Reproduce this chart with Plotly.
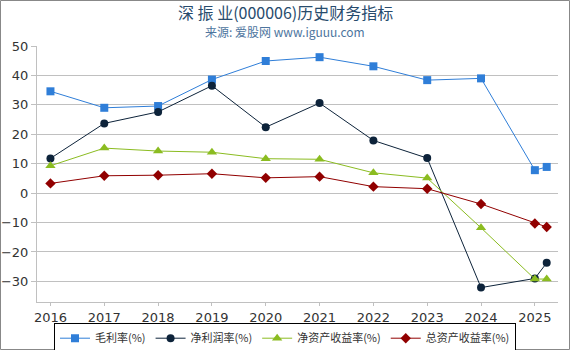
import plotly.graph_objects as go

x_vals = [2016, 2017, 2018, 2019, 2020, 2021, 2022, 2023, 2024, 2025, 2025.22]
gross_margin = [34.6, 29.0, 29.6, 38.6, 44.9, 46.2, 43.1, 38.4, 39.0, 7.8, 8.9]
net_margin = [11.8, 23.7, 27.6, 36.5, 22.4, 30.6, 17.9, 11.9, -32.1, -29.0, -23.7]
roe = [9.3, 15.3, 14.3, 13.9, 11.7, 11.5, 6.9, 5.1, -11.8, -29.2, -29.2]
roa = [3.3, 5.9, 6.1, 6.6, 5.2, 5.6, 2.2, 1.5, -3.7, -10.3, -11.5]
tick_years = [2016, 2017, 2018, 2019, 2020, 2021, 2022, 2023, 2024, 2025]

series = [
    ("毛利率(%)", gross_margin, "#2f7ed8", "square", 8),
    ("净利润率(%)", net_margin, "#0d233a", "circle", 8),
    ("净资产收益率(%)", roe, "#8bbc21", "triangle-up", 9),
    ("总资产收益率(%)", roa, "#910000", "diamond", 8),
]

fig = go.Figure()
for name, vals, color, sym, sz in series:
    fig.add_trace(go.Scatter(
        x=x_vals, y=vals, name=name, mode="lines+markers",
        line=dict(color=color, width=1),
        marker=dict(symbol=sym, size=sz, color=color),
    ))

L, R, T, B = 37, 12, 46, 48
W, H = 570, 350
pw, ph = W - L - R, H - T - B

fig.update_layout(
    width=W, height=H,
    margin=dict(l=L, r=R, t=T, b=B, autoexpand=False),
    paper_bgcolor="white", plot_bgcolor="white",
    font=dict(family="DejaVu Sans, Noto Sans CJK SC", size=12, color="#333333"),
    showlegend=True,
    legend=dict(
        orientation="h", xref="container", yref="container",
        x=0.5, xanchor="center", y=0.078, yanchor="top",
        bordercolor="black", borderwidth=1,
        font=dict(family="Noto Sans CJK SC, DejaVu Sans", size=11, color="#333333"),
        itemwidth=30, tracegroupgap=0,
    ),
    xaxis=dict(
        range=[2015.75, 2025.43], tickvals=tick_years,
        ticktext=[str(y) for y in tick_years],
        showgrid=False, zeroline=False, showline=True, linecolor="#c0c0c0",
        ticks="outside", ticklen=3, tickcolor="#c0c0c0",
        tickfont=dict(size=13, color="#333333"),
    ),
    yaxis=dict(
        range=[-37, 50], dtick=10, tick0=0,
        showgrid=True, gridcolor="#c0c0c0", zeroline=False,
        showline=True, linecolor="#c0c0c0",
        ticks="outside", ticklen=5, tickcolor="#c0c0c0",
        tickfont=dict(size=13, color="#333333"),
    ),
    annotations=[
        dict(text="深 振 业(000006)历史财务指标", xref="paper", yref="paper",
             x=(W / 2 - L) / pw, y=1 + (T - 12) / ph, xanchor="center", yanchor="middle",
             showarrow=False,
             font=dict(family="Noto Sans CJK SC, DejaVu Sans", size=16, color="#274b6d")),
        dict(text="来源: 爱股网 www.iguuu.com", xref="paper", yref="paper",
             x=(W / 2 - L) / pw, y=1 + (T - 31.5) / ph, xanchor="center", yanchor="middle",
             showarrow=False,
             font=dict(family="Noto Sans CJK SC, DejaVu Sans", size=12, color="#4d759e")),
    ],
    shapes=[dict(
        type="rect", xref="paper", yref="paper",
        x0=-L / pw + 0.5 / pw, x1=1 + (R - 0.5) / pw,
        y0=-B / ph + 0.5 / ph, y1=1 + (T - 0.5) / ph,
        line=dict(color="#888888", width=1), fillcolor="rgba(0,0,0,0)",
        layer="below",
    )],
)

fig.write_html("out.html")
